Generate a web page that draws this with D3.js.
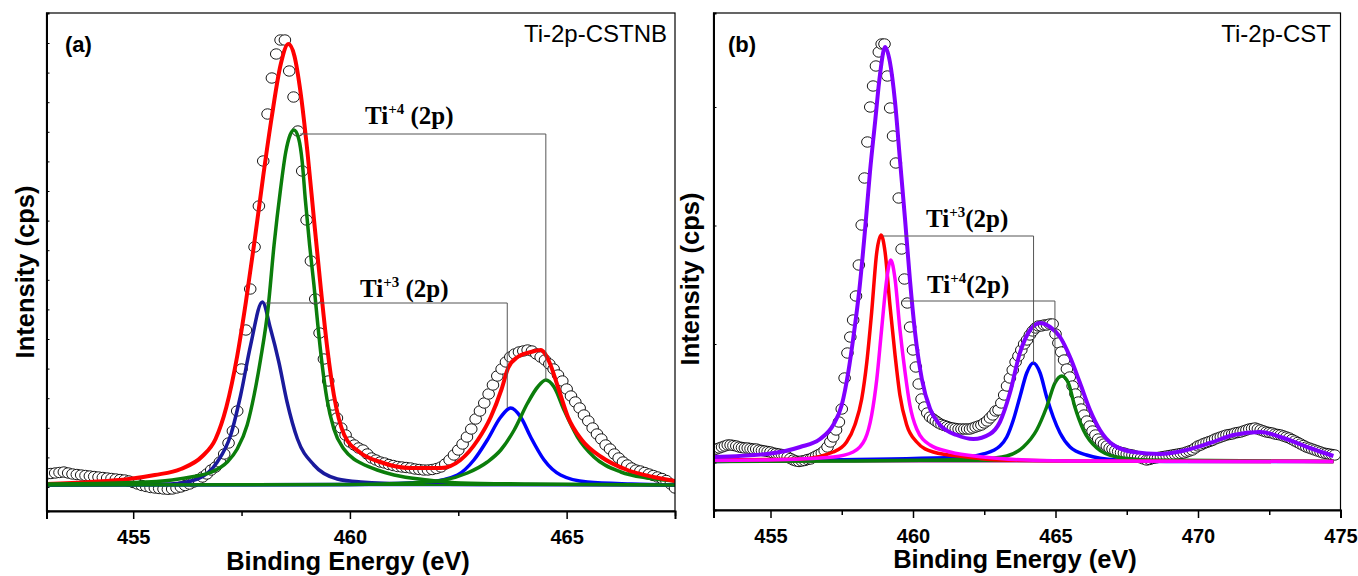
<!DOCTYPE html>
<html>
<head>
<meta charset="utf-8">
<script src="https://cdn.jsdelivr.net/npm/d3@7"></script>
<style>
  body { margin: 0; background: #fff; }
  svg { display: block; }
</style>
</head>
<body>
<svg id="chart" width="1358" height="576"></svg>
<script>
// ---- data (binding energy in eV, intensity in arbitrary counts) ----

// panel (a) Ti-2p-CSTNB, measured points
var expA = [
  [453.0,37],[453.1,37.5],[453.2,38],[453.3,38.5],[453.4,39],[453.5,38],[453.6,37],[453.7,36.5],[453.8,36],[453.9,35.5],
  [454.0,35],[454.1,34.5],[454.2,34],[454.3,33.5],[454.4,33],[454.5,32.5],[454.6,32],[454.7,31.5],[454.8,31],[454.9,30],
  [455.0,28.5],[455.1,27],[455.2,25.5],[455.3,24.5],[455.4,23.5],[455.5,23],[455.6,22.5],[455.7,22],[455.8,21.7],[455.9,22],
  [456.0,23],[456.1,24],[456.2,25.5],[456.3,27],[456.4,29],[456.5,31.5],[456.6,34],[456.7,37],[456.8,41],[456.9,44],
  [457.0,49],[457.1,57],[457.2,68],[457.3,80],[457.4,100],[457.5,142],[457.6,181],[457.7,222],[457.8,264],[457.9,305],
  [458.0,350],[458.1,397],[458.2,433],[458.3,457],[458.4,471],[458.5,471],[458.6,440],[458.7,414],[458.8,380],[458.9,340],
  [459.0,291],[459.1,250],[459.2,212],[459.3,178],[459.4,152],[459.5,130],[459.6,106],[459.7,93],[459.8,83],[459.9,76],
  [460.0,69],[460.1,66],[460.2,63],[460.3,61],[460.4,57],[460.5,53],[460.6,51],[460.7,49],[460.8,48],[460.9,46.5],
  [461.0,45.5],[461.1,44.5],[461.2,44],[461.3,43.5],[461.4,43],[461.5,42],[461.6,41.5],[461.7,41],[461.8,41],[461.9,41.5],
  [462.0,42.5],[462.1,44],[462.2,47],[462.3,51],[462.4,56],[462.5,61],[462.6,67],[462.7,74],[462.8,82],[462.9,92],
  [463.0,100],[463.1,108],[463.2,117],[463.3,126],[463.4,135],[463.5,142],[463.6,149],[463.7,154],[463.8,157],[463.9,159],
  [464.0,160],[464.1,161],[464.2,160],[464.3,157],[464.4,154],[464.5,151],[464.6,147],[464.7,142],[464.8,136],[464.9,130],
  [465.0,122],[465.1,115],[465.2,109],[465.3,103],[465.4,96],[465.5,90],[465.6,83],[465.7,77],[465.8,72],[465.9,66],
  [466.0,62],[466.1,57],[466.2,53],[466.3,49],[466.4,46],[466.5,43],[466.6,41],[466.7,40],[466.8,38.5],[466.9,37],
  [467.0,35.5],[467.1,34],[467.2,32.5],[467.3,30.5],[467.4,27],[467.5,23]
];

// panel (a) fitted curves
var envelopeA = [[453.0,27],[454.0,29],[454.9,32],[455.5,36],[456.1,42],[456.6,55],[456.9,72],[457.15,104],[457.4,155],
  [457.6,209],[457.8,270],[458.0,335],[458.2,395],[458.4,446],[458.58,467],[458.72,455],[458.86,419],[459.02,359],
  [459.17,292],[459.33,222],[459.48,162],[459.63,116],[459.87,76],[460.25,58],[460.7,49],[461.4,43],[462.1,43],
  [462.55,51],[462.95,71],[463.25,94],[463.5,122],[463.65,143],[463.87,154],[464.18,159],[464.4,161],[464.6,149],
  [464.8,124],[465.03,94],[465.35,71],[465.8,54],[466.4,41],[467.0,34],[467.5,30]];
var ti4MainA = [[453.0,27],[455.0,28.5],[455.9,31],[456.4,34.5],[456.78,38.5],[457.17,49],[457.4,62],[457.63,86],
  [457.79,116],[457.94,152],[458.11,202],[458.25,266],[458.4,322],[458.52,359],[458.62,376],[458.71,381],[458.82,372],
  [458.9,349],[458.97,312],[459.07,266],[459.17,226],[459.26,186],[459.36,146],[459.47,112],[459.63,82],[459.86,62],
  [460.09,52],[460.25,48],[460.63,41],[461.02,36],[461.79,31],[462.56,28],[464.1,27],[467.5,26]];
var ti4SecA = [[453.0,26],[460.0,26.5],[461.4,28],[462.17,31],[462.71,38],[463.17,49],[463.48,61],[463.79,81],[464.1,108],
  [464.33,124],[464.52,131],[464.71,124],[464.94,101],[465.25,74],[465.63,54],[466.25,39],[466.86,33],[467.5,30]];
var ti3MainA = [[453.0,26],[455.86,27],[456.48,32],[456.94,49],[457.25,76],[457.48,116],[457.71,166],[457.98,209],
  [458.17,182],[458.36,149],[458.55,109],[458.79,72],[459.17,46],[459.71,32],[460.25,29],[461.5,27],[463.0,26.5],[467.5,26]];
var ti3SecA = [[453.0,26],[460.0,26.5],[461.79,29],[462.48,36],[462.86,51],[463.17,71],[463.48,94],[463.71,103],[463.94,94],
  [464.17,74],[464.48,51],[464.86,36],[465.48,29],[466.5,27],[467.5,26]];
var baseA = [[453.0,26],[467.5,26]];

// panel (b) Ti-2p-CST, measured points
var expB = [
  [453.0,60],[453.1,61],[453.2,62],[453.3,63],[453.4,64],[453.5,65],[453.6,65],[453.7,64.5],[453.8,64],[453.9,63],
  [454.0,62.5],[454.1,62],[454.2,62],[454.3,61.5],[454.4,61],[454.5,61],[454.6,60],[454.7,59.5],[454.8,59],[454.9,58.5],
  [455.0,58],[455.1,57],[455.2,56.5],[455.3,56],[455.4,55.5],[455.5,54.5],[455.6,53],[455.7,51.5],[455.8,50],[455.9,49],
  [456.0,48.5],[456.1,49],[456.2,49.5],[456.3,50.5],[456.4,51],[456.5,52.5],[456.6,54],[456.7,55.5],[456.8,57],[456.9,59.5],
  [457.0,63],[457.1,68],[457.2,73],[457.3,80],[457.4,88],[457.5,101],[457.6,132],[457.7,157],[457.8,173],[457.9,190],
  [458.0,214],[458.1,245],[458.2,285],[458.3,332],[458.4,368],[458.5,403],[458.6,424],[458.7,444],[458.8,458],[458.9,466],
  [459.0,466],[459.1,434],[459.2,402],[459.3,374],[459.4,347],[459.5,312],[459.6,261],[459.7,231],[459.8,207],[459.9,183],
  [460.0,160],[460.1,143],[460.2,126],[460.3,111],[460.4,103],[460.5,97],[460.6,93],[460.7,91],[460.8,89],[460.9,87],
  [461.0,85.5],[461.1,84.5],[461.2,83.5],[461.3,82.5],[461.4,82],[461.5,81.5],[461.6,81],[461.7,81],[461.8,81],[461.9,81],
  [462.0,81],[462.1,82],[462.2,83],[462.3,84],[462.4,85],[462.5,87],[462.6,89],[462.7,92],[462.8,95],[462.9,99],
  [463.0,100],[463.1,107],[463.2,115],[463.3,124],[463.4,132],[463.5,140],[463.6,148],[463.7,154],[463.8,160],[463.9,166],
  [464.0,170],[464.1,175],[464.2,179],[464.3,182],[464.4,184],[464.5,184],[464.6,185],[464.7,185],[464.8,186],[464.9,186],
  [465.0,176],[465.1,167],[465.2,158],[465.3,150],[465.4,141],[465.5,133],[465.6,124],[465.7,116],[465.8,108],[465.9,101],
  [466.0,95],[466.1,89],[466.2,84],[466.3,79],[466.4,75],[466.5,71],[466.6,68],[466.7,66],[466.8,64],[466.9,62],
  [467.0,61],[467.1,59.5],[467.2,58.5],[467.3,57.5],[467.4,57],[467.5,56],[467.6,55.5],[467.7,55],[467.8,54],[467.9,53],
  [468.0,52],[468.1,51],[468.2,50],[468.3,50.5],[468.4,51.5],[468.5,52],[468.6,52.5],[468.7,53],[468.8,53.5],[468.9,54],
  [469.0,54.5],[469.1,55],[469.2,55.5],[469.3,56],[469.4,56.5],[469.5,57],[469.6,58],[469.7,59],[469.8,60],[469.9,62],
  [470.0,64],[470.1,65],[470.2,66.5],[470.3,67.5],[470.4,68.5],[470.5,69.5],[470.6,71],[470.7,72],[470.8,73],[470.9,74],
  [471.0,75],[471.1,75.5],[471.2,76],[471.3,77],[471.4,77.5],[471.5,78],[471.6,79],[471.7,80],[471.8,81],[471.9,81.5],
  [472.0,82],[472.1,81],[472.2,80],[472.3,79],[472.4,78],[472.5,77.5],[472.6,77],[472.7,76],[472.8,75.5],[472.9,75],
  [473.0,74],[473.1,73],[473.2,72],[473.3,70.5],[473.4,69],[473.5,67.5],[473.6,66],[473.7,64.5],[473.8,63],[473.9,62],
  [474.0,61],[474.1,60],[474.2,59],[474.3,58],[474.4,57],[474.5,56.5],[474.6,56],[474.7,55.5],[474.8,55]
];

// panel (b) fitted curves
var envelopeB = [[453.0,53],[454.87,56],[456.04,63],[456.74,71],[457.2,85],[457.5,105],[457.73,138],[457.9,171],
  [458.12,221],[458.32,281],[458.49,338],[458.67,388],[458.84,435],[459.02,463],[459.19,448],[459.37,408],[459.54,351],
  [459.72,291],[459.89,231],[460.07,178],[460.31,131],[460.6,101],[460.95,85],[461.53,75],[462.12,71],[462.7,76],
  [463.05,88],[463.4,117],[463.75,157],[464.11,180],[464.46,187],[464.81,183],[465.16,173],[465.51,153],[465.86,127],
  [466.21,100],[466.56,80],[467.03,65],[467.73,58],[468.67,56],[469.6,60],[470.42,67],[471.24,75],[472.18,78],
  [473.0,72],[473.93,62],[474.75,54]];
var ti3MainB = [[453.0,50],[456.04,51],[457.2,58],[457.67,68],[457.96,85],[458.2,111],[458.38,148],[458.55,198],
  [458.73,258],[458.88,275],[459.02,258],[459.19,205],[459.37,155],[459.54,115],[459.78,85],[460.13,68],[460.71,58],
  [461.88,53],[463.05,50],[466.0,49],[474.75,48.5]];
var ti4MainB = [[453.0,49.5],[454.87,50],[457.2,53],[457.9,58],[458.32,71],[458.55,95],[458.73,131],[458.9,181],
  [459.08,231],[459.22,250],[459.37,231],[459.54,181],[459.72,138],[459.89,105],[460.13,81],[460.6,65],[461.3,58],
  [462.47,53],[464.0,50],[466.0,49],[474.75,48.5]];
var ti3SecB = [[453.0,48.5],[456.6,50],[461.88,53],[462.47,56],[463.05,64],[463.29,73],[463.52,90],[463.75,113],
  [463.99,137],[464.22,147],[464.46,137],[464.69,113],[464.92,93],[465.16,77],[465.51,63],[466.09,55],[467.15,50],
  [468.9,48.5],[474.75,48.5]];
var ti4SecB = [[453.0,48.5],[458.0,49],[461.0,50],[462.47,51],[463.29,54],[463.87,63],[464.34,80],[464.69,103],
  [464.98,127],[465.22,134],[465.45,127],[465.68,103],[465.98,80],[466.45,62],[467.15,53],[468.32,50],[474.75,48.5]];
var baseB = [[453.0,48.5],[474.75,48.5]];

var ticksA = [455, 460, 465], minorA = [457.5, 462.5, 467.5];
var ticksB = [455, 460, 465, 470, 475], minorB = [457.5, 462.5, 467.5, 472.5];

// ---- drawing ----
var svg = d3.select("#chart");
var SANS = "Arial, 'Liberation Sans', sans-serif",
    SERIF = "'Times New Roman', 'Liberation Serif', serif";

function addText(x, y, str, size, weight, anchor) {
    return svg.append("text")
        .attr("x", x).attr("y", y)
        .attr("text-anchor", anchor || "start")
        .style("font-family", SANS)
        .style("font-size", size + "px")
        .style("font-weight", weight)
        .text(str);
}

// Ti^{+n} (2p) label, superscript via tspans
function ionLabel(x, y, charge, gap) {
    var t = svg.append("text")
        .attr("x", x).attr("y", y)
        .style("font-family", SERIF)
        .style("font-weight", "bold")
        .style("font-size", "25px");
    t.append("tspan").text("Ti");
    t.append("tspan").attr("dy", -10).style("font-size", "15px").text(charge);
    t.append("tspan").attr("dy", 10).text((gap ? " " : "") + "(2p)");
}

function drawPanel(p) {
    var x = d3.scaleLinear().domain(p.xDomain).range(p.xRange),
        y = d3.scaleLinear().domain(p.yDomain).range(p.yRange);

    var clipId = "clip-" + p.id;
    svg.append("defs").append("clipPath").attr("id", clipId)
        .append("rect")
        .attr("x", p.xRange[0]).attr("y", p.yRange[1])
        .attr("width", p.xRange[1] - p.xRange[0])
        .attr("height", p.yRange[0] - p.yRange[1]);

    var plot = svg.append("g").attr("clip-path", "url(#" + clipId + ")");

    // measured points: open circles
    plot.append("g").selectAll("ellipse")
        .data(p.exp)
        .join("ellipse")
        .attr("cx", function(d) { return x(d[0]); })
        .attr("cy", function(d) { return y(d[1]); })
        .attr("rx", 5.8).attr("ry", 5.2)
        .attr("fill", "#fff")
        .attr("stroke", "#000")
        .attr("stroke-width", 0.9);

    var line = d3.line()
        .x(function(d) { return x(d[0]); })
        .y(function(d) { return y(d[1]); })
        .curve(d3.curveMonotoneX);

    p.curves.forEach(function(c) {
        plot.append("path")
            .datum(c.data)
            .attr("d", line)
            .attr("fill", "none")
            .attr("stroke", c.color)
            .attr("stroke-width", c.width)
            .attr("stroke-linejoin", "round");
    });

    // peak-pair brackets
    p.brackets.forEach(function(b) {
        svg.append("path")
            .attr("d", "M" + x(b.x1) + "," + y(b.top) + "H" + x(b.x2) + "V" + y(b.bottom))
            .attr("fill", "none")
            .attr("stroke", "#555")
            .attr("stroke-width", 1);
    });

    // frame
    svg.append("rect")
        .attr("x", p.xRange[0]).attr("y", p.yRange[1])
        .attr("width", p.xRange[1] - p.xRange[0])
        .attr("height", p.yRange[0] - p.yRange[1])
        .attr("fill", "none")
        .attr("stroke", "#000")
        .attr("stroke-width", 1.2);

    // x axis
    var xAxis = d3.axisBottom(x).tickValues(p.ticks).tickSize(8).tickPadding(11)
        .tickFormat(d3.format("d"));
    var gx = svg.append("g")
        .attr("transform", "translate(0," + p.yRange[0] + ")")
        .call(xAxis);
    gx.select(".domain").attr("stroke-width", 2);
    gx.selectAll(".tick line").attr("stroke-width", 1.5);
    gx.selectAll(".tick text")
        .style("font-family", SANS)
        .style("font-size", "20px")
        .style("font-weight", "bold")
        .attr("fill", "#000");

    svg.append("g")
        .attr("transform", "translate(0," + p.yRange[0] + ")")
        .call(d3.axisBottom(x).tickValues(p.minor).tickSize(5).tickFormat(""))
        .call(function(g) { g.select(".domain").remove(); })
        .selectAll(".tick line").attr("stroke-width", 1.5);

    // y axis: small inward ticks, no labels
    var gy = svg.append("g")
        .attr("transform", "translate(" + p.xRange[0] + ",0)")
        .call(d3.axisLeft(y).tickValues(p.yTicks).tickSize(-3).tickFormat(""));
    gy.select(".domain").attr("stroke-width", 2);

    // labels
    addText(p.tagX, 52, p.tag, 22, "bold");
    addText(p.titleX, 42, p.title, 24, "normal", "end");
    svg.append("text")
        .attr("transform", "translate(" + p.yLabelX + "," + p.yLabelY + ") rotate(-90)")
        .attr("text-anchor", "middle")
        .style("font-family", SANS)
        .style("font-size", "25.5px")
        .style("font-weight", "bold")
        .text("Intensity (cps)");
    addText(p.xLabelX, p.xLabelY, "Binding Energy (eV)", 25.5, "bold", "middle");

    p.ions.forEach(function(l) { ionLabel(l.x, l.y, l.charge, l.gap); });
}

drawPanel({
    id: "a",
    xDomain: [453, 467.5], xRange: [46.5, 675],
    yDomain: [0, 498], yRange: [511, 13],
    ticks: ticksA, minor: minorA,
    yTicks: d3.range(24, 480, 29.6),
    exp: expA,
    curves: [
        { data: baseA, color: "#2020ff", width: 2.5 },
        { data: ti3MainA, color: "#1a1a9c", width: 3.5 },
        { data: ti3SecA, color: "#0000ff", width: 3.5 },
        { data: ti4SecA, color: "#0b7d0b", width: 3.5 },
        { data: envelopeA, color: "#ff0000", width: 4 },
        { data: ti4MainA, color: "#0b7d0b", width: 3.5 },
        { data: baseA, color: "#0b7d0b", width: 2 }
    ],
    brackets: [
        { x1: 458.85, x2: 464.52, top: 377, bottom: 131 },
        { x1: 458.05, x2: 463.63, top: 208, bottom: 103 }
    ],
    ions: [
        { x: 365, y: 124, charge: "+4", gap: true },
        { x: 360, y: 297, charge: "+3", gap: true }
    ],
    tag: "(a)", tagX: 65,
    title: "Ti-2p-CSTNB", titleX: 667,
    yLabelX: 34, yLabelY: 272,
    xLabelX: 348, xLabelY: 570
});

drawPanel({
    id: "b",
    xDomain: [453, 475], xRange: [713.5, 1340.5],
    yDomain: [0, 497], yRange: [510, 13],
    ticks: ticksB, minor: minorB,
    yTicks: [47.5, 166, 284.5, 403],
    exp: expB,
    curves: [
        { data: baseB, color: "#ff00ff", width: 2 },
        { data: baseB, color: "#0b7d0b", width: 1.5 },
        { data: ti3SecB, color: "#0000ff", width: 3.5 },
        { data: ti4SecB, color: "#0b7d0b", width: 3.5 },
        { data: ti3MainB, color: "#ff0000", width: 3.5 },
        { data: ti4MainB, color: "#ff00ff", width: 3.5 },
        { data: envelopeB, color: "#8000ff", width: 4 }
    ],
    brackets: [
        { x1: 458.95, x2: 464.23, top: 274, bottom: 147 },
        { x1: 459.6, x2: 464.98, top: 209, bottom: 127 }
    ],
    ions: [
        { x: 926, y: 227, charge: "+3", gap: false },
        { x: 927, y: 293, charge: "+4", gap: false }
    ],
    tag: "(b)", tagX: 728,
    title: "Ti-2p-CST", titleX: 1331,
    yLabelX: 699, yLabelY: 279,
    xLabelX: 1015, xLabelY: 568
});
</script>
</body>
</html>
